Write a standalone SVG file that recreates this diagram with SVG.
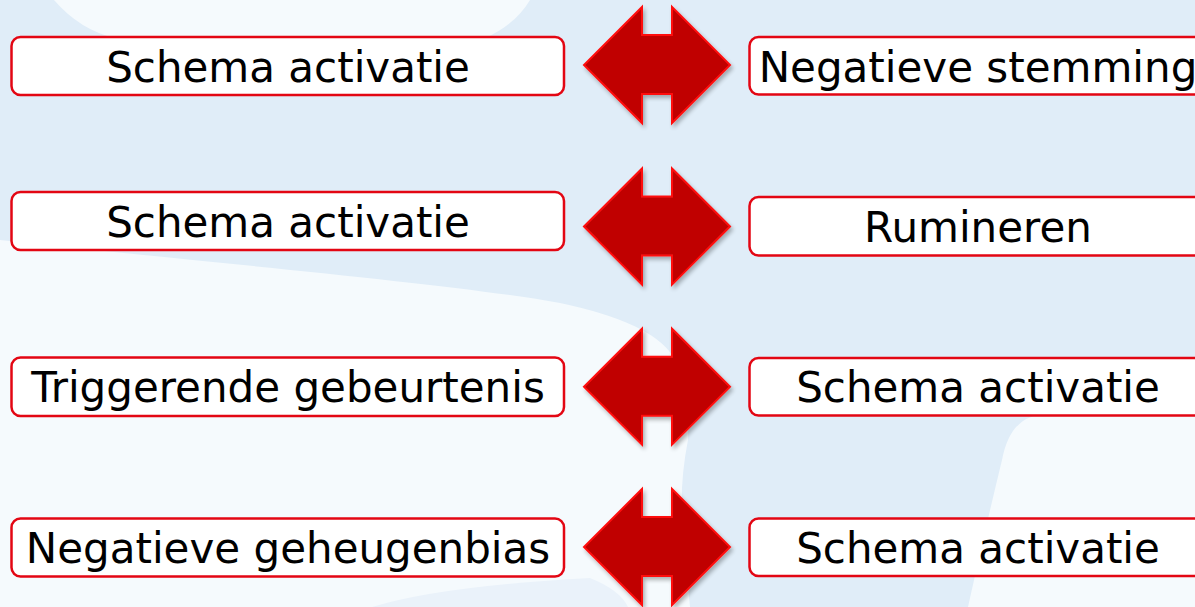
<svg xmlns="http://www.w3.org/2000/svg" width="1195" height="607" viewBox="0 0 1195 607">
  <defs>
    <filter id="shadow" x="-20%" y="-20%" width="140%" height="140%">
      <feGaussianBlur in="SourceAlpha" stdDeviation="2"/>
      <feOffset dx="2" dy="3" result="b"/>
      <feComponentTransfer><feFuncA type="linear" slope="0.3"/></feComponentTransfer>
      <feMerge><feMergeNode/><feMergeNode in="SourceGraphic"/></feMerge>
    </filter>
    <path id="arrow" d="M642,-58 L642,-30 L672,-30 L672,-58 L730,0 L672,58 L672,29 L642,29 L642,58 L584,0 Z"/>
  </defs>
  <style>
    .box { fill: #ffffff; stroke: #e30613; stroke-width: 2.5; }
    .lbl { font-family: "DejaVu Sans", Verdana, sans-serif; font-size: 42px; fill: #000000; text-anchor: middle; }
    .arr { fill: #c00000; stroke: #ff1010; stroke-width: 2; stroke-linejoin: miter; }
    .light { fill: #f5fafd; }
  </style>

  <!-- background -->
  <g id="background">
    <rect x="0" y="0" width="1195" height="607" fill="#e0edf8"/>
    <path class="light" d="M54,0 Q80,30 115,38 L485,38 Q515,25 530,0 Z"/>
    <path class="light" d="M0,240 C200,262 450,283 560,303 Q650,322 672,355 Q690,400 688,440 Q680,480 682,520 L690,607 L0,607 Z"/>
    <path d="M372,607 Q440,586 590,578 Q620,590 628,607 Z" fill="#eaf2fa"/>
    <path class="light" d="M1195,415 L1040,415 Q1010,418 1002,460 Q985,530 968,607 L1195,607 Z"/>
  </g>

  <!-- connectors (double arrows) -->
  <g id="connectors" filter="url(#shadow)">
    <use href="#arrow" class="arr" transform="translate(0,65)"/>
    <use href="#arrow" class="arr" transform="translate(0,226.5)"/>
    <use href="#arrow" class="arr" transform="translate(0,386.7)"/>
    <use href="#arrow" class="arr" transform="translate(0,547)"/>
  </g>

  <!-- left nodes -->
  <g id="node-l1">
    <rect class="box" x="11.5" y="37" width="552.5" height="58" rx="9"/>
    <text class="lbl" x="288" y="82">Schema activatie</text>
  </g>
  <g id="node-l2">
    <rect class="box" x="11.5" y="192" width="552.5" height="58" rx="9"/>
    <text class="lbl" x="288" y="237">Schema activatie</text>
  </g>
  <g id="node-l3">
    <rect class="box" x="11.5" y="357.5" width="552.5" height="58.5" rx="9"/>
    <text class="lbl" x="288" y="402">Triggerende gebeurtenis</text>
  </g>
  <g id="node-l4">
    <rect class="box" x="11.5" y="518.5" width="552.5" height="58" rx="9"/>
    <text class="lbl" x="288" y="563">Negatieve geheugenbias</text>
  </g>

  <!-- right nodes -->
  <g id="node-r1">
    <rect class="box" x="749.5" y="37" width="460" height="57.5" rx="9"/>
    <text class="lbl" x="978" y="82">Negatieve stemming</text>
  </g>
  <g id="node-r2">
    <rect class="box" x="749.5" y="197" width="460" height="58.5" rx="9"/>
    <text class="lbl" x="978" y="242">Rumineren</text>
  </g>
  <g id="node-r3">
    <rect class="box" x="749.5" y="358" width="460" height="57.5" rx="9"/>
    <text class="lbl" x="978" y="402">Schema activatie</text>
  </g>
  <g id="node-r4">
    <rect class="box" x="749.5" y="518.5" width="460" height="57.5" rx="9"/>
    <text class="lbl" x="978" y="563">Schema activatie</text>
  </g>
</svg>
